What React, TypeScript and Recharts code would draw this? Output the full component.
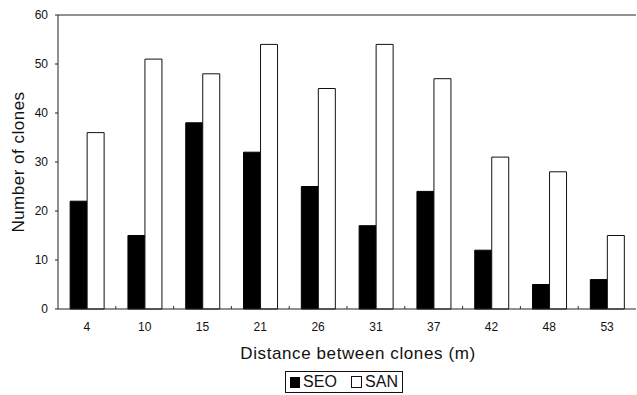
import React from 'react';
import { BarChart, Bar, XAxis, YAxis, ReferenceLine } from 'recharts';

const categories = ['4', '10', '15', '21', '26', '31', '37', '42', '48', '53'];
const seo = [22, 15, 38, 32, 25, 17, 24, 12, 5, 6];
const san = [36, 51, 48, 54, 45, 54, 47, 31, 28, 15];
const yTicks = [0, 10, 20, 30, 40, 50, 60];
const seriesNames = ['SEO', 'SAN'];

const data = categories.map((c, i) => ({ d: c, SEO: seo[i], SAN: san[i] }));

const W = 637;
const H = 395;
const M = { top: 15, right: 1, left: 0, bottom: 56 };
const YW = 58;
const band = (W - M.left - M.right - YW) / categories.length;

const font = 'Arial, "Liberation Sans", Helvetica, sans-serif';

const XTick = (props: any) => {
  const { x, y, payload, index } = props;
  return (
    <g>
      <text x={x} y={y + 22} textAnchor="middle" fontSize={12} fill="#111" fontFamily={font}>
        {payload.value}
      </text>
      {index < categories.length - 1 && (
        <line x1={x + band / 2} x2={x + band / 2} y1={y} y2={y - 3} stroke="#333" />
      )}
    </g>
  );
};

const XLabel = (props: any) => {
  const { viewBox } = props;
  const cx = viewBox.x + viewBox.width / 2 + 11;
  return (
    <text
      x={cx}
      y={viewBox.y + 50}
      textAnchor="middle"
      fontSize={17}
      letterSpacing={0.6}
      fill="#111"
      fontFamily={font}
    >
      Distance between clones (m)
    </text>
  );
};

const YLabel = (props: any) => {
  const { viewBox } = props;
  const cy = viewBox.y + viewBox.height / 2;
  return (
    <text
      x={18}
      y={cy}
      transform={`rotate(-90 18 ${cy})`}
      textAnchor="middle"
      dominantBaseline="central"
      fontSize={17}
      letterSpacing={0.5}
      fill="#111"
      fontFamily={font}
    >
      Number of clones
    </text>
  );
};

const LegendBox = () => (
  <div
    style={{
      position: 'absolute',
      left: 285,
      top: 371,
      border: '1px solid #111',
      display: 'flex',
      alignItems: 'center',
      height: 22,
      padding: '0 4px',
      fontFamily: font,
      fontSize: 16,
      color: '#111',
      boxSizing: 'border-box',
      width: 118,
      background: '#fff',
    }}
  >
    <span style={{ width: 11, height: 11, background: '#000', display: 'inline-block', marginRight: 3 }} />
    <span>{seriesNames[0]}</span>
    <span
      style={{
        width: 10,
        height: 10,
        background: '#fff',
        border: '1px solid #111',
        display: 'inline-block',
        marginLeft: 14,
        marginRight: 3,
      }}
    />
    <span>{seriesNames[1]}</span>
  </div>
);

export default function App() {
  return (
    <div style={{ position: 'absolute', left: 0, top: 0, width: W, height: H, background: '#fff' }}>
      <BarChart width={W} height={H} data={data} margin={M} barCategoryGap="21%" barGap={0}>
        <XAxis
          dataKey="d"
          height={30}
          tickSize={0}
          tickMargin={0}
          tick={<XTick />}
          stroke="#222"
          interval={0}
          label={<XLabel />}
        />
        <YAxis
          width={YW}
          domain={[0, 60]}
          ticks={yTicks}
          interval={0}
          tickSize={3}
          tickMargin={7}
          stroke="#222"
          tick={{ fill: '#111', fontSize: 12, fontFamily: font }}
          label={<YLabel />}
        />
        <ReferenceLine y={60} stroke="#222" />
        <Bar dataKey="SEO" fill="#000" stroke="#000" isAnimationActive={false} />
        <Bar dataKey="SAN" fill="#fff" stroke="#111" strokeWidth={1} isAnimationActive={false} />
      </BarChart>
      <LegendBox />
    </div>
  );
}
